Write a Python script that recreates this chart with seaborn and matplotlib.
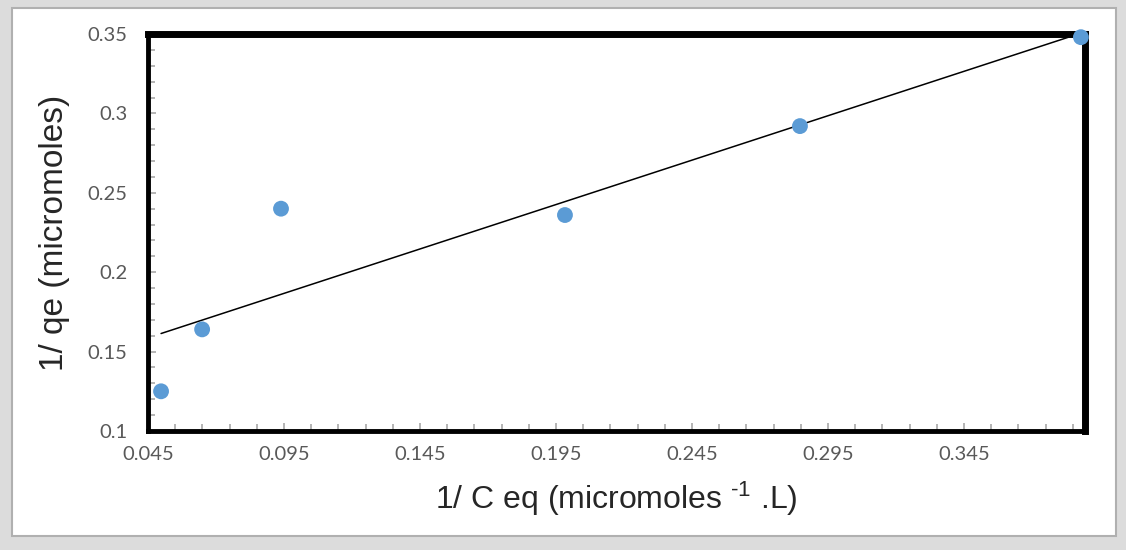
import numpy as np
import pandas as pd
import seaborn as sns
import matplotlib.pyplot as plt
from matplotlib.patches import Rectangle
from matplotlib.ticker import MultipleLocator, FixedLocator, FuncFormatter

# data
inv_ceq = [0.0498, 0.0649, 0.0939, 0.1983, 0.2847, 0.3880]
inv_qe = [0.125, 0.164, 0.240, 0.236, 0.292, 0.348]
x_ticks = [0.045, 0.095, 0.145, 0.195, 0.245, 0.295, 0.345]
y_ticks = [0.1, 0.15, 0.2, 0.25, 0.3, 0.35]

df = pd.DataFrame({"x": inv_ceq, "y": inv_qe})

sns.set_style("white")
plt.rcParams["font.family"] = ["Liberation Sans", "DejaVu Sans"]
plt.rcParams["mathtext.default"] = "regular"

fig = plt.figure(figsize=(11.26, 5.5), dpi=100)
fig.patch.set_facecolor("#dcdcdc")
# white card with grey border like the pasted picture
fig.patches.append(Rectangle((12 / 1126, 14 / 550), 1104 / 1126, 528 / 550,
                             transform=fig.transFigure, facecolor="white",
                             edgecolor="#b0b0b0", lw=1.5, zorder=-10))

ax = fig.add_axes([148 / 1126, 1 - 431 / 550, 937 / 1126, 397 / 550])
ax.set_zorder(5)
ax.set_facecolor("white")

sns.regplot(data=df, x="x", y="y", ci=None, scatter=False, ax=ax,
            line_kws={"color": "black", "lw": 1.1})
sns.scatterplot(data=df, x="x", y="y", ax=ax, color="#5B9BD5", s=130,
                edgecolor="none", zorder=5, clip_on=False)

ax.set_xlim(0.045, 0.3895)
ax.set_ylim(0.1, 0.35)
ax.xaxis.set_major_locator(FixedLocator(x_ticks))
ax.xaxis.set_minor_locator(MultipleLocator(0.01, offset=0.005))
ax.yaxis.set_major_locator(FixedLocator(y_ticks))
ax.yaxis.set_minor_locator(MultipleLocator(0.01))
ax.xaxis.set_major_formatter(FuncFormatter(lambda v, p: f"{v:.3f}"))
ax.yaxis.set_major_formatter(FuncFormatter(lambda v, p: f"{v:g}"))

ax.tick_params(which="both", direction="in", color="#a8a8a8", width=1.2,
               bottom=True, left=True)
ax.tick_params(which="major", length=6, labelsize=14.5, labelcolor="#595959")
ax.tick_params(which="minor", length=5)
ax.tick_params(axis="x", which="major", pad=11)
ax.tick_params(axis="y", which="major", pad=15)
for lab in ax.get_xticklabels() + ax.get_yticklabels():
    lab.set_family(["Lato", "DejaVu Sans"])

for side in ["top", "right"]:
    ax.spines[side].set_linewidth(5)
    ax.spines[side].set_color("black")
for side in ["left", "bottom"]:
    ax.spines[side].set_linewidth(3.5)
    ax.spines[side].set_color("black")

ax.set_xlabel("1/ C eq (micromoles $^{\u2010 1}$ .L)", fontsize=23, labelpad=12)
ax.set_ylabel("1/ qe (micromoles)", fontsize=24, labelpad=12)

fig.savefig("out.png", dpi=100, facecolor=fig.get_facecolor())
